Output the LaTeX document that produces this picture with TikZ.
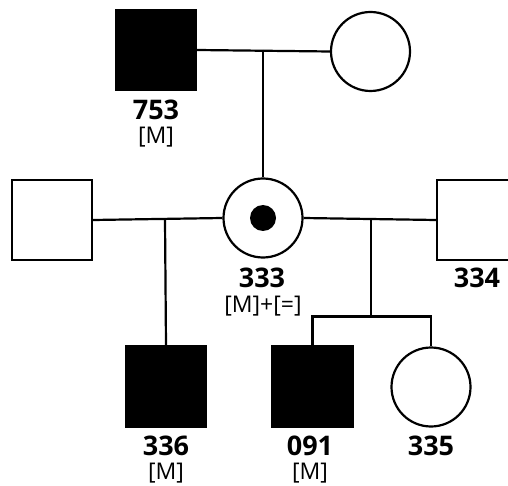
\documentclass[tikz,border=0pt]{standalone}
\usepackage{fontspec}
\setsansfont{Open Sans}
\usepackage{tikz}
\usetikzlibrary{positioning}

\begin{document}
\begin{tikzpicture}[
  x=1pt, y=-1pt,
  font=\sffamily,
  male/.style={draw=black, line width=2.2pt, rectangle, minimum size=80pt, inner sep=0pt, fill=white},
  female/.style={draw=black, line width=2.2pt, circle, minimum size=79pt, inner sep=0pt, fill=white},
  hit/.style={fill=black},
  tie/.style={draw=black, line width=2.2pt},
  idnum/.style={inner sep=0pt, font=\sffamily\bfseries\fontsize{27}{30}\selectfont},
  geno/.style={inner sep=0pt, font=\sffamily\fontsize{23}{26}\selectfont}
]
  \clip (0,0) rectangle (508,486);
  % generation I
  \node[male, hit] (p753) at (156,50) {};
  \node[female] (w753) at (370.5,51.5) {};
  \coordinate (u1) at (263,50);
  % generation II
  \node[male] (h1) at (52,220) {};
  \node[female] (p333) at (263,218) {};
  \node[male] (p334) at (477,220) {};
  \coordinate (u2) at (165,220);
  \coordinate (u3) at (371,220);
  \coordinate (sib) at (371,316.5);
  % generation III
  \node[male, hit] (p336) at (166,386.5) {};
  \node[male, hit] (p091) at (312.5,386.5) {};
  \node[female] (p335) at (431,387) {};
  \coordinate (s1) at (312.5,316.5);
  \coordinate (s2) at (431,316.5);

  \fill (p333.center) circle (13pt);

  % lines
  \draw[tie] (p753.east) -- (w753.west);
  \draw[tie] (u1) -- (p333.north);
  \draw[tie] (h1.east) -- (p333.west);
  \draw[tie] (p333.east) -- (p334.west);
  \draw[tie] (u2) -- (p336.north);
  \draw[tie] (u3) -- (sib);
  \draw[tie] (p091.north) -- (s1) -- (s2) -- (p335.north);

  % labels
  \node[idnum] (l753) at (156,110) {753};
  \node[geno] (g753) at (156,137) {[M]};
  \node[idnum] (l333) at (262,278) {333};
  \node[geno] (g333) at (263,306) {[M]+[=]};
  \node[idnum] (l334) at (477,278) {334};
  \node[idnum] (l336) at (166,446) {336};
  \node[geno] (g336) at (166,473) {[M]};
  \node[idnum] (l091) at (310,446) {091};
  \node[geno] (g091) at (310,473) {[M]};
  \node[idnum] (l335) at (431,446) {335};
\end{tikzpicture}
\end{document}
